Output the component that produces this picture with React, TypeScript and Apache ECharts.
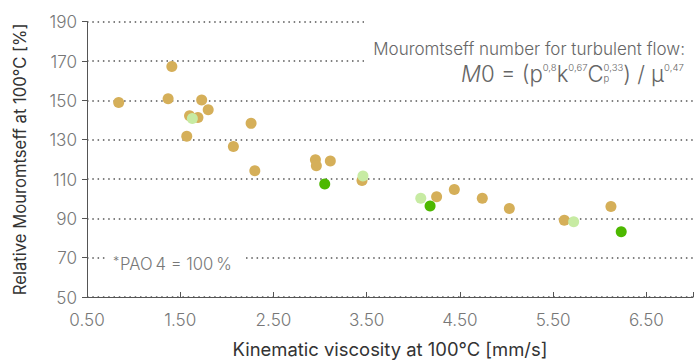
import React, { useEffect, useRef } from "react";
import * as echarts from "echarts";

const xTicks = [0.5, 1.5, 2.5, 3.5, 4.5, 5.5, 6.5];
const yTicks = [50, 70, 90, 110, 130, 150, 170, 190];

const tanX = [0.84, 1.41, 1.37, 1.73, 1.8, 1.6, 1.69, 1.57, 2.26, 2.07, 2.3, 2.95, 2.96, 3.11, 3.45, 4.25, 4.44, 4.74, 5.03, 5.62, 6.12];
const tanY = [148.9, 167.2, 150.8, 150.2, 145.2, 142.2, 141.3, 131.7, 138.3, 126.5, 114.2, 119.8, 116.8, 119.2, 109.2, 101, 104.7, 100.2, 95, 89, 96];

const greenX = [3.05, 4.18, 6.23];
const greenY = [107.5, 96.3, 83.2];

const lightX = [1.63, 3.46, 4.08, 5.72];
const lightY = [140.8, 111.5, 100.2, 88.3];

const titleText = "Mouromtseff number for turbulent flow:";
const noteText = "PAO\u20094 = 100\u2009%";

const FAM = "Inter";

function pts(xs: number[], ys: number[]) {
  return xs.map((x, i) => [x, ys[i]]);
}

let ctx: CanvasRenderingContext2D | null = null;
function tw(text: string, size: number, weight = 300, italic = false) {
  if (!ctx) ctx = document.createElement("canvas").getContext("2d");
  if (!ctx) return text.length * size * 0.55;
  ctx.font = `${italic ? "italic " : ""}${weight} ${size}px ${FAM}`;
  return ctx.measureText(text).width;
}

type Tok = { t: string; s: number; dy: number; it?: boolean; stackWith?: Tok };

function buildFormula(rightX: number, cy: number, targetW: number, color: string) {
  const M = 21;
  const S = 9;
  const toks: Tok[] = [
    { t: "M", s: M, dy: 0, it: true },
    { t: "0 = (", s: M, dy: 0 },
    { t: "p", s: M, dy: 0 },
    { t: "0,8", s: S, dy: -5 },
    { t: "k", s: M, dy: 0 },
    { t: "0,67", s: S, dy: -5 },
    { t: "C", s: M, dy: 0 },
    { t: "0,33", s: S, dy: -5, stackWith: { t: "p", s: S, dy: 5 } },
    { t: ") / μ", s: M, dy: 0 },
    { t: "0,47", s: S, dy: -5 },
  ];
  const widthOf = (tk: Tok, k: number) => {
    let w = tw(tk.t, tk.s * k, 300, !!tk.it);
    if (tk.stackWith) w = Math.max(w, tw(tk.stackWith.t, tk.stackWith.s * k));
    return w;
  };
  let total = 0;
  toks.forEach((tk) => (total += widthOf(tk, 1)));
  const k = targetW / total;
  let x = rightX - targetW;
  const els: any[] = [];
  const mk = (tk: Tok, xx: number) => ({
    type: "text",
    z: 11,
    x: xx,
    y: cy + tk.dy * k,
    style: {
      text: tk.t,
      fontSize: tk.s * k,
      fontFamily: FAM,
      fontWeight: 300,
      fontStyle: tk.it ? "italic" : "normal",
      fill: color,
      align: "left",
      verticalAlign: "middle",
    },
  });
  toks.forEach((tk) => {
    els.push(mk(tk, x));
    if (tk.stackWith) els.push(mk(tk.stackWith, x));
    x += widthOf(tk, k);
  });
  return els;
}

function fitSize(text: string, targetW: number, weight = 300) {
  return (16 * targetW) / tw(text, 16, weight);
}

export default function App() {
  const ref = useRef<HTMLDivElement>(null);
  useEffect(() => {
    if (!ref.current) return;
    const chart = echarts.init(ref.current, undefined, { renderer: "svg" });
    const titleSize = fitSize(titleText, 312);
    const noteSize = fitSize(noteText, 112);
    const tickSize = fitSize("1.50", 32);
    chart.setOption({
      animation: false,
      grid: { left: 87, right: 1, top: 21.7, bottom: 60.5 },
      xAxis: {
        type: "value",
        min: 0.5,
        max: 7,
        interval: 1,
        name: "Kinematic viscosity at 100°C [mm/s]",
        nameLocation: "middle",
        nameGap: 43,
        nameTextStyle: { fontSize: fitSize("Kinematic viscosity at 100°C [mm/s]", 315, 400), color: "#333", fontFamily: FAM, fontWeight: 400 },
        axisLine: { show: true, lineStyle: { color: "#555", width: 1 } },
        axisTick: { show: true, inside: true, length: 5, lineStyle: { color: "#555" } },
        axisLabel: {
          margin: 14,
          fontSize: tickSize,
          color: "#777",
          fontFamily: FAM,
          fontWeight: 300,
          formatter: (v: number) => (xTicks.indexOf(v) >= 0 ? v.toFixed(2) : ""),
        },
        splitLine: { show: false },
      },
      yAxis: {
        type: "value",
        min: 50,
        max: 190,
        interval: 20,
        name: "Relative Mouromtseff at 100°C [%]",
        nameLocation: "middle",
        nameGap: 59,
        nameTextStyle: { fontSize: fitSize("Relative Mouromtseff at 100°C [%]", 272, 400), color: "#333", fontFamily: FAM, fontWeight: 400 },
        axisLine: { show: true, lineStyle: { color: "#555", width: 1 } },
        axisTick: { show: true, inside: false, length: 5, lineStyle: { color: "#555" } },
        axisLabel: {
          margin: 10,
          fontSize: tickSize,
          color: "#777",
          fontFamily: FAM,
          fontWeight: 300,
          formatter: (v: number) => (yTicks.indexOf(v) >= 0 ? String(v) : ""),
        },
        splitLine: { show: true, lineStyle: { color: "#555", width: 1.5, type: [1.5, 3.8] } },
      },
      graphic: [
        { type: "rect", z: 10, shape: { x: 364, y: 12, width: 332, height: 76 }, style: { fill: "#fff" } },
        {
          type: "text",
          z: 11,
          x: 685,
          y: 49,
          style: {
            text: titleText,
            fontSize: titleSize,
            fontFamily: FAM,
            fontWeight: 300,
            fill: "#666",
            align: "right",
            verticalAlign: "middle",
          },
        },
        ...buildFormula(684, 73, 223, "#666"),
        { type: "rect", z: 10, shape: { x: 106, y: 254, width: 138, height: 16 }, style: { fill: "#fff" } },
        {
          type: "text",
          z: 11,
          x: 113,
          y: 261,
          style: { text: "*", fontSize: noteSize * 0.75, fontFamily: FAM, fontWeight: 300, fill: "#777", align: "left", verticalAlign: "middle" },
        },
        {
          type: "text",
          z: 11,
          x: 120,
          y: 264,
          style: { text: noteText, fontSize: noteSize, fontFamily: FAM, fontWeight: 300, fill: "#777", align: "left", verticalAlign: "middle" },
        },
      ],
      series: [
        {
          type: "scatter",
          data: pts(tanX, tanY),
          symbolSize: 11,
          itemStyle: { color: "#D5AF59", opacity: 1 },
          z: 3,
        },
        {
          type: "scatter",
          data: pts(greenX, greenY),
          symbolSize: 11,
          itemStyle: { color: "#4DB800", opacity: 1 },
          z: 4,
        },
        {
          type: "scatter",
          data: pts(lightX, lightY),
          symbolSize: 11,
          itemStyle: { color: "#C7EBA3", opacity: 1 },
          z: 5,
        },
      ],
    });
    return () => chart.dispose();
  }, []);
  return <div ref={ref} style={{ width: 696, height: 363, position: "absolute", left: 0, top: 0 }} />;
}
